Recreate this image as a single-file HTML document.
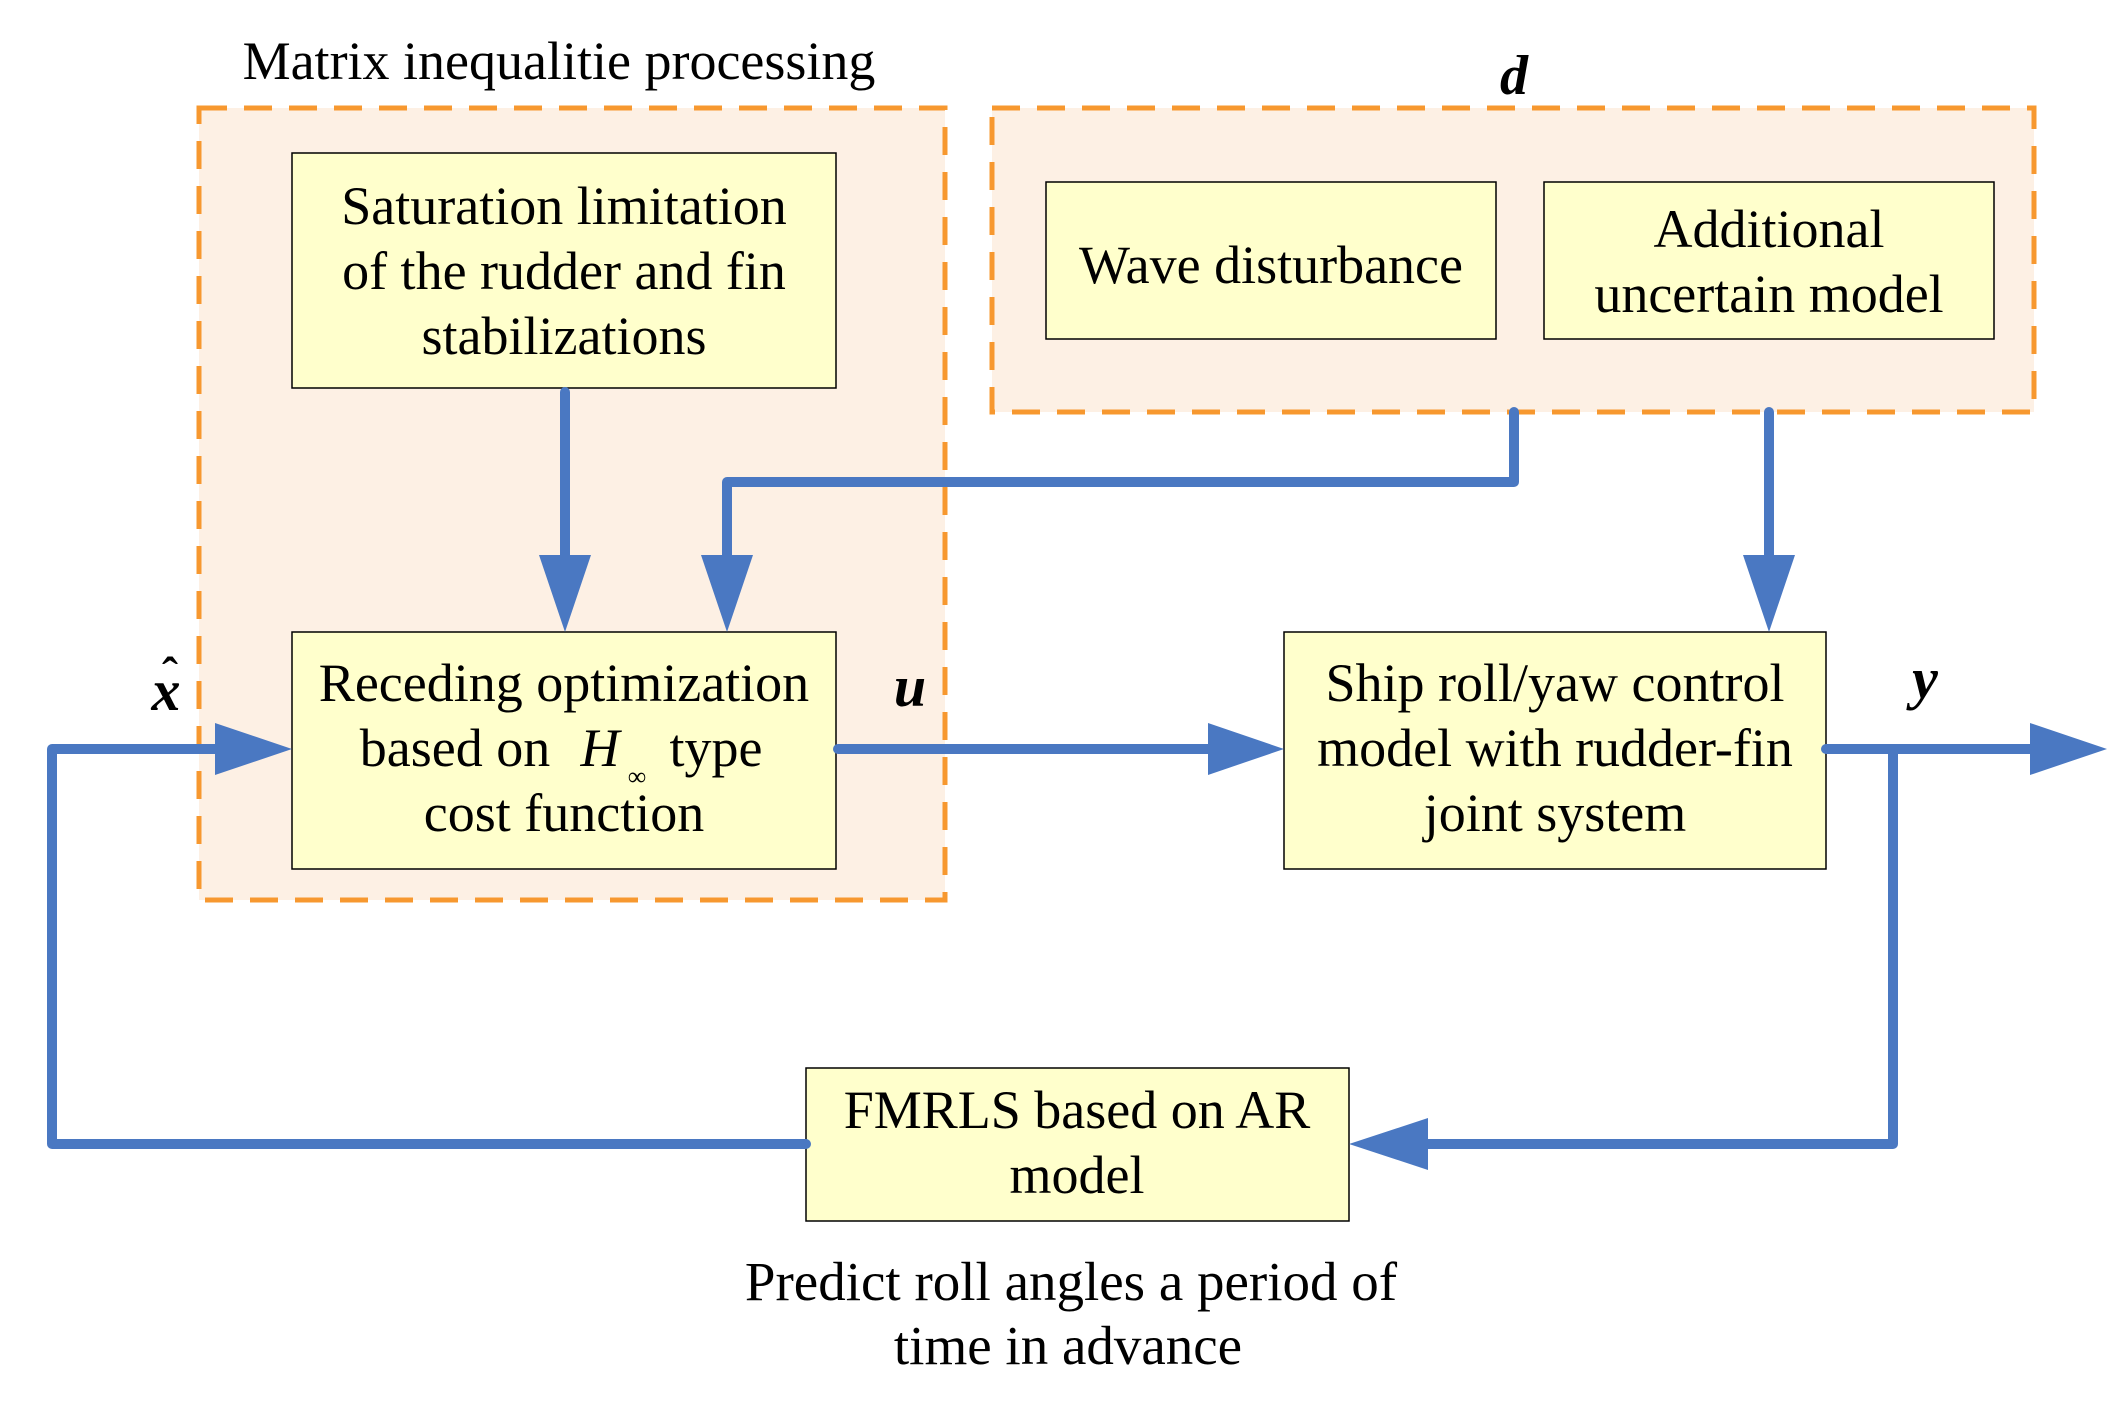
<!DOCTYPE html>
<html><head><style>
html,body{margin:0;padding:0;background:#fff;}
svg{display:block;}
text{font-family:"Liberation Serif",serif;fill:#000;}
</style></head><body>
<svg width="2117" height="1402" viewBox="0 0 2117 1402" xmlns="http://www.w3.org/2000/svg">
<!-- group frames -->
<rect x="199" y="108" width="746" height="792" fill="#fdf0e4" stroke="#f7982f" stroke-width="5" stroke-dasharray="28,17"/>
<rect x="992" y="108" width="1042" height="304" fill="#fdf0e4" stroke="#f7982f" stroke-width="5" stroke-dasharray="28,17"/>
<text x="559" y="79" font-size="54" text-anchor="middle">Matrix inequalitie processing</text>
<text x="1514" y="94" font-size="56" font-weight="bold" font-style="italic" text-anchor="middle">d</text>

<!-- boxes -->
<g fill="#ffffcc" stroke="#000" stroke-width="1.5">
<rect x="292" y="153" width="544" height="235"/>
<rect x="1046" y="182" width="450" height="157"/>
<rect x="1544" y="182" width="450" height="157"/>
<rect x="292" y="632" width="544" height="237"/>
<rect x="1284" y="632" width="542" height="237"/>
<rect x="806" y="1068" width="543" height="153"/>
</g>
<g font-size="54" text-anchor="middle">
<text x="564" y="224">Saturation limitation</text>
<text x="564" y="289">of the rudder and fin</text>
<text x="564" y="354">stabilizations</text>
<text x="1271" y="283">Wave disturbance</text>
<text x="1769" y="247">Additional</text>
<text x="1769" y="312">uncertain model</text>
<text x="564" y="701">Receding optimization</text>
<text x="455" y="766">based on</text>
<text x="600" y="766" font-style="italic">H</text>
<text x="637" y="785" font-size="26">∞</text>
<text x="716" y="766">type</text>
<text x="564" y="831">cost function</text>
<text x="1555" y="701">Ship roll/yaw control</text>
<text x="1555" y="766">model with rudder-fin</text>
<text x="1555" y="831">joint system</text>
<text x="1077" y="1128">FMRLS based on AR</text>
<text x="1077" y="1193">model</text>
<text x="1071" y="1300" font-size="55">Predict roll angles  a period of</text>
<text x="1068" y="1364" font-size="55">time in advance</text>
</g>
<!-- labels -->
<g font-size="58" font-weight="bold" font-style="italic" text-anchor="middle">
<text x="166" y="710">x</text>
<text x="910" y="706">u</text>
<text x="1925" y="698">y</text>
</g>
<text x="170" y="690" font-size="48" font-weight="bold" text-anchor="middle">ˆ</text>

<!-- connectors -->
<g stroke="#4a78c2" stroke-width="10" fill="none" stroke-linejoin="round" stroke-linecap="round">
<polyline points="565,392 565,560"/>
<polyline points="1514,412 1514,482 727,482 727,560"/>
<polyline points="1769,412 1769,560"/>
<polyline points="838,749 1212,749"/>
<polyline points="1826,749 2030,749"/>
<polyline points="1893,749 1893,1144 1425,1144"/>
<polyline points="806,1144 52,1144 52,749 218,749"/>
</g>
<g fill="#4a78c2">
<polygon points="539,555 591,555 565,632"/>
<polygon points="701,555 753,555 727,632"/>
<polygon points="1743,555 1795,555 1769,632"/>
<polygon points="1208,723 1208,775 1284,749"/>
<polygon points="2030,723 2030,775 2107,749"/>
<polygon points="1428,1118 1428,1170 1349,1144"/>
<polygon points="215,723 215,775 292,749"/>
</g>
</svg>
</body></html>
